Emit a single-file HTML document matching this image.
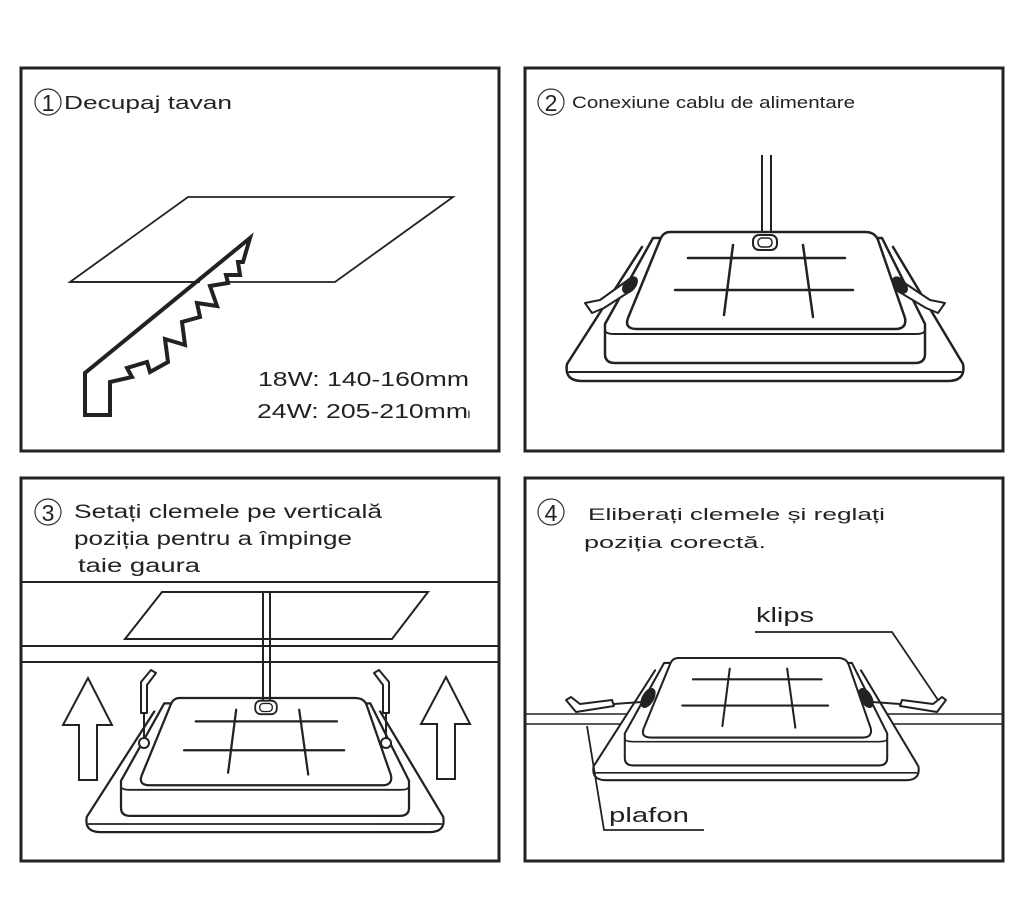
<!DOCTYPE html>
<html><head><meta charset="utf-8"><style>
html,body{margin:0;padding:0;background:#fff;}
svg{display:block;}
text{font-family:"Liberation Sans",sans-serif;fill:#222;}
</style></head><body>
<svg width="1024" height="907" viewBox="0 0 1024 907" xmlns="http://www.w3.org/2000/svg">
<defs>
<g id="lamp" fill="#fff" stroke="#222" stroke-linejoin="round" stroke-linecap="round">
  <path d="M -123,15 L -198,132 Q -201,149 -183,149 L 183,149 Q 201,149 198,132 L 128,15" stroke-width="2.5"/>
  <path d="M -196,140 L 196,140" stroke-width="2" fill="none"/>
  <path d="M -112,6 L -160,92 L -160,122 Q -160,131 -150,131 L 150,131 Q 160,131 160,122 L 160,92 L 117,6 Z" stroke-width="2.5"/>
  <path d="M -160,98 Q -160,102 -150,102 L 150,102 Q 160,102 160,98" fill="none" stroke-width="2"/>
  <path d="M -95,0 L 100,0 Q 110,0 113,8 L 140,86 Q 142,97 130,97 L -128,97 Q -141,97 -137,86 L -105,8 Q -102,0 -95,0 Z" stroke-width="2.5"/>
  <g stroke-width="2.5" fill="none">
    <line x1="-77" y1="26" x2="80" y2="26"/>
    <line x1="-90" y1="58" x2="88" y2="58"/>
    <line x1="-32" y1="13" x2="-41" y2="83"/>
    <line x1="38" y1="13" x2="48" y2="85"/>
  </g>
</g>
<g id="conn" fill="#fff" stroke="#222">
  <rect x="-12" y="3" width="24" height="15" rx="6" stroke-width="2"/>
  <rect x="-7" y="6" width="14" height="9" rx="4" stroke-width="1.5"/>
</g>
</defs>

<!-- Frames -->
<g fill="none" stroke="#222" stroke-width="3">
  <rect x="21" y="68" width="478" height="383"/>
  <rect x="525" y="68" width="478" height="383"/>
  <rect x="21" y="478" width="478" height="383"/>
  <rect x="525" y="478" width="478" height="383"/>
</g>

<!-- Panel 1 -->
<circle cx="48" cy="102" r="13" fill="none" stroke="#333" stroke-width="1.2"/>
<text x="48" y="111" font-size="23" text-anchor="middle" font-weight="300">1</text>
<text x="64" y="109" font-size="18" textLength="168" lengthAdjust="spacingAndGlyphs">Decupaj tavan</text>
<polygon points="70,282 188,197 453,197 335,282" fill="none" stroke="#222" stroke-width="1.8"/>
<path d="M 250,238 L 85,373 L 85,415 L 110,415 L 110,382 L 132,377 L 127,368 L 147,362 L 150,372 L 168,362 L 165,339 L 185,345 L 182,322 L 200,317 L 197,303 L 217,306 L 210,286 L 228,283 L 226,275 L 240,275 L 238,262 L 243,262 Z" fill="#fff" stroke="#222" stroke-width="4" stroke-linejoin="miter"/>
<line x1="70" y1="282" x2="200" y2="282" stroke="#222" stroke-width="1.8"/>
<text x="258" y="386" font-size="20" textLength="211" lengthAdjust="spacingAndGlyphs">18W: 140-160mm</text>
<text x="257" y="418" font-size="20" textLength="211" lengthAdjust="spacingAndGlyphs">24W: 205-210mm</text>
<text x="467" y="418" font-size="14">ı</text>

<!-- Panel 2 -->
<circle cx="551" cy="102" r="13" fill="none" stroke="#333" stroke-width="1.2"/>
<text x="551" y="111" font-size="23" text-anchor="middle" font-weight="300">2</text>
<text x="572" y="108" font-size="17" textLength="283" lengthAdjust="spacingAndGlyphs">Conexiune cablu de alimentare</text>
<line x1="762" y1="155" x2="762" y2="240" stroke="#222" stroke-width="2"/>
<line x1="771" y1="155" x2="771" y2="240" stroke="#222" stroke-width="2"/>
<g transform="translate(765,232)"><use href="#lamp"/><use href="#conn"/></g>
<!-- clips panel 2 -->
<g stroke="#222" stroke-width="2" fill="#fff" stroke-linejoin="round">
  <path d="M 628,280 L 600,300 L 585,303 L 592,313 L 604,308 L 632,290 Z"/>
  <ellipse cx="630" cy="285" rx="5" ry="9" transform="rotate(40 630 285)" fill="#222"/>
  <path d="M 900,280 L 930,300 L 945,303 L 938,313 L 926,308 L 896,290 Z"/>
  <ellipse cx="900" cy="285" rx="5" ry="9" transform="rotate(-40 900 285)" fill="#222"/>
</g>

<!-- Panel 3 -->
<circle cx="48" cy="512" r="13" fill="none" stroke="#333" stroke-width="1.2"/>
<text x="48" y="521" font-size="23" text-anchor="middle" font-weight="300">3</text>
<text x="74" y="518" font-size="19" textLength="308" lengthAdjust="spacingAndGlyphs">Setați clemele pe verticală</text>
<text x="74" y="545" font-size="19" textLength="278" lengthAdjust="spacingAndGlyphs">poziția pentru a împinge</text>
<text x="78" y="572" font-size="19" textLength="122" lengthAdjust="spacingAndGlyphs">taie gaura</text>
<g stroke="#222" stroke-width="2" fill="none">
  <line x1="21" y1="582" x2="499" y2="582"/>
  <line x1="21" y1="646" x2="499" y2="646"/>
  <line x1="21" y1="662" x2="499" y2="662"/>
  <polygon points="125,639 162,592 428,592 392,639"/>
  <path d="M 88,678 L 63,725 L 79,725 L 79,780 L 97,780 L 97,725 L 112,725 Z"/>
  <path d="M 446,677 L 421,724 L 437,724 L 437,779 L 455,779 L 455,724 L 470,724 Z"/>
</g>
<g transform="translate(265,698) scale(0.9)"><use href="#lamp"/></g>
<line x1="263" y1="592" x2="263" y2="705" stroke="#222" stroke-width="2"/>
<line x1="270" y1="592" x2="270" y2="705" stroke="#222" stroke-width="2"/>
<g transform="translate(266,698) scale(0.9)"><use href="#conn"/></g>
<g stroke="#222" stroke-width="2" fill="#fff" stroke-linejoin="round">
  <path d="M 141,713 L 141,682 L 151,670 L 156,673 L 147,685 L 147,713 Z"/>
  <circle cx="144" cy="743" r="5"/>
  <line x1="144" y1="713" x2="144" y2="738"/>
  <path d="M 389,713 L 389,682 L 379,670 L 374,673 L 383,685 L 383,713 Z"/>
  <circle cx="386" cy="743" r="5"/>
  <line x1="386" y1="713" x2="386" y2="738"/>
</g>

<!-- Panel 4 -->
<circle cx="551" cy="512" r="13" fill="none" stroke="#333" stroke-width="1.2"/>
<text x="551" y="521" font-size="23" text-anchor="middle" font-weight="300">4</text>
<text x="588" y="520" font-size="17" textLength="297" lengthAdjust="spacingAndGlyphs">Eliberați clemele și reglați</text>
<text x="584" y="548" font-size="17" textLength="182" lengthAdjust="spacingAndGlyphs">poziția corectă.</text>
<g stroke="#222" stroke-width="1.5" fill="none">
  <line x1="525" y1="714" x2="630" y2="714"/>
  <line x1="525" y1="724" x2="630" y2="724"/>
  <line x1="880" y1="714" x2="1003" y2="714"/>
  <line x1="880" y1="724" x2="1003" y2="724"/>
</g>
<g transform="translate(756,658) scale(0.82)"><use href="#lamp"/></g>
<g stroke="#222" stroke-width="2" fill="#fff" stroke-linejoin="round">
  <path d="M 566,700 L 576,712 L 614,706 L 612,700 L 580,704 L 571,697 Z"/>
  <line x1="614" y1="704" x2="642" y2="702"/>
  <ellipse cx="648" cy="698" rx="5" ry="10" transform="rotate(30 648 698)" fill="#222"/>
  <path d="M 946,700 L 937,712 L 900,706 L 902,700 L 933,704 L 942,697 Z"/>
  <line x1="900" y1="704" x2="872" y2="702"/>
  <ellipse cx="866" cy="698" rx="5" ry="10" transform="rotate(-30 866 698)" fill="#222"/>
</g>
<text x="756" y="622" font-size="20" textLength="58" lengthAdjust="spacingAndGlyphs">klips</text>
<polyline points="755,632 892,632 938,700" fill="none" stroke="#222" stroke-width="1.8"/>
<text x="609" y="822" font-size="20" textLength="80" lengthAdjust="spacingAndGlyphs">plafon</text>
<polyline points="587,726 604,830 704,830" fill="none" stroke="#222" stroke-width="1.8"/>
</svg>
</body></html>
